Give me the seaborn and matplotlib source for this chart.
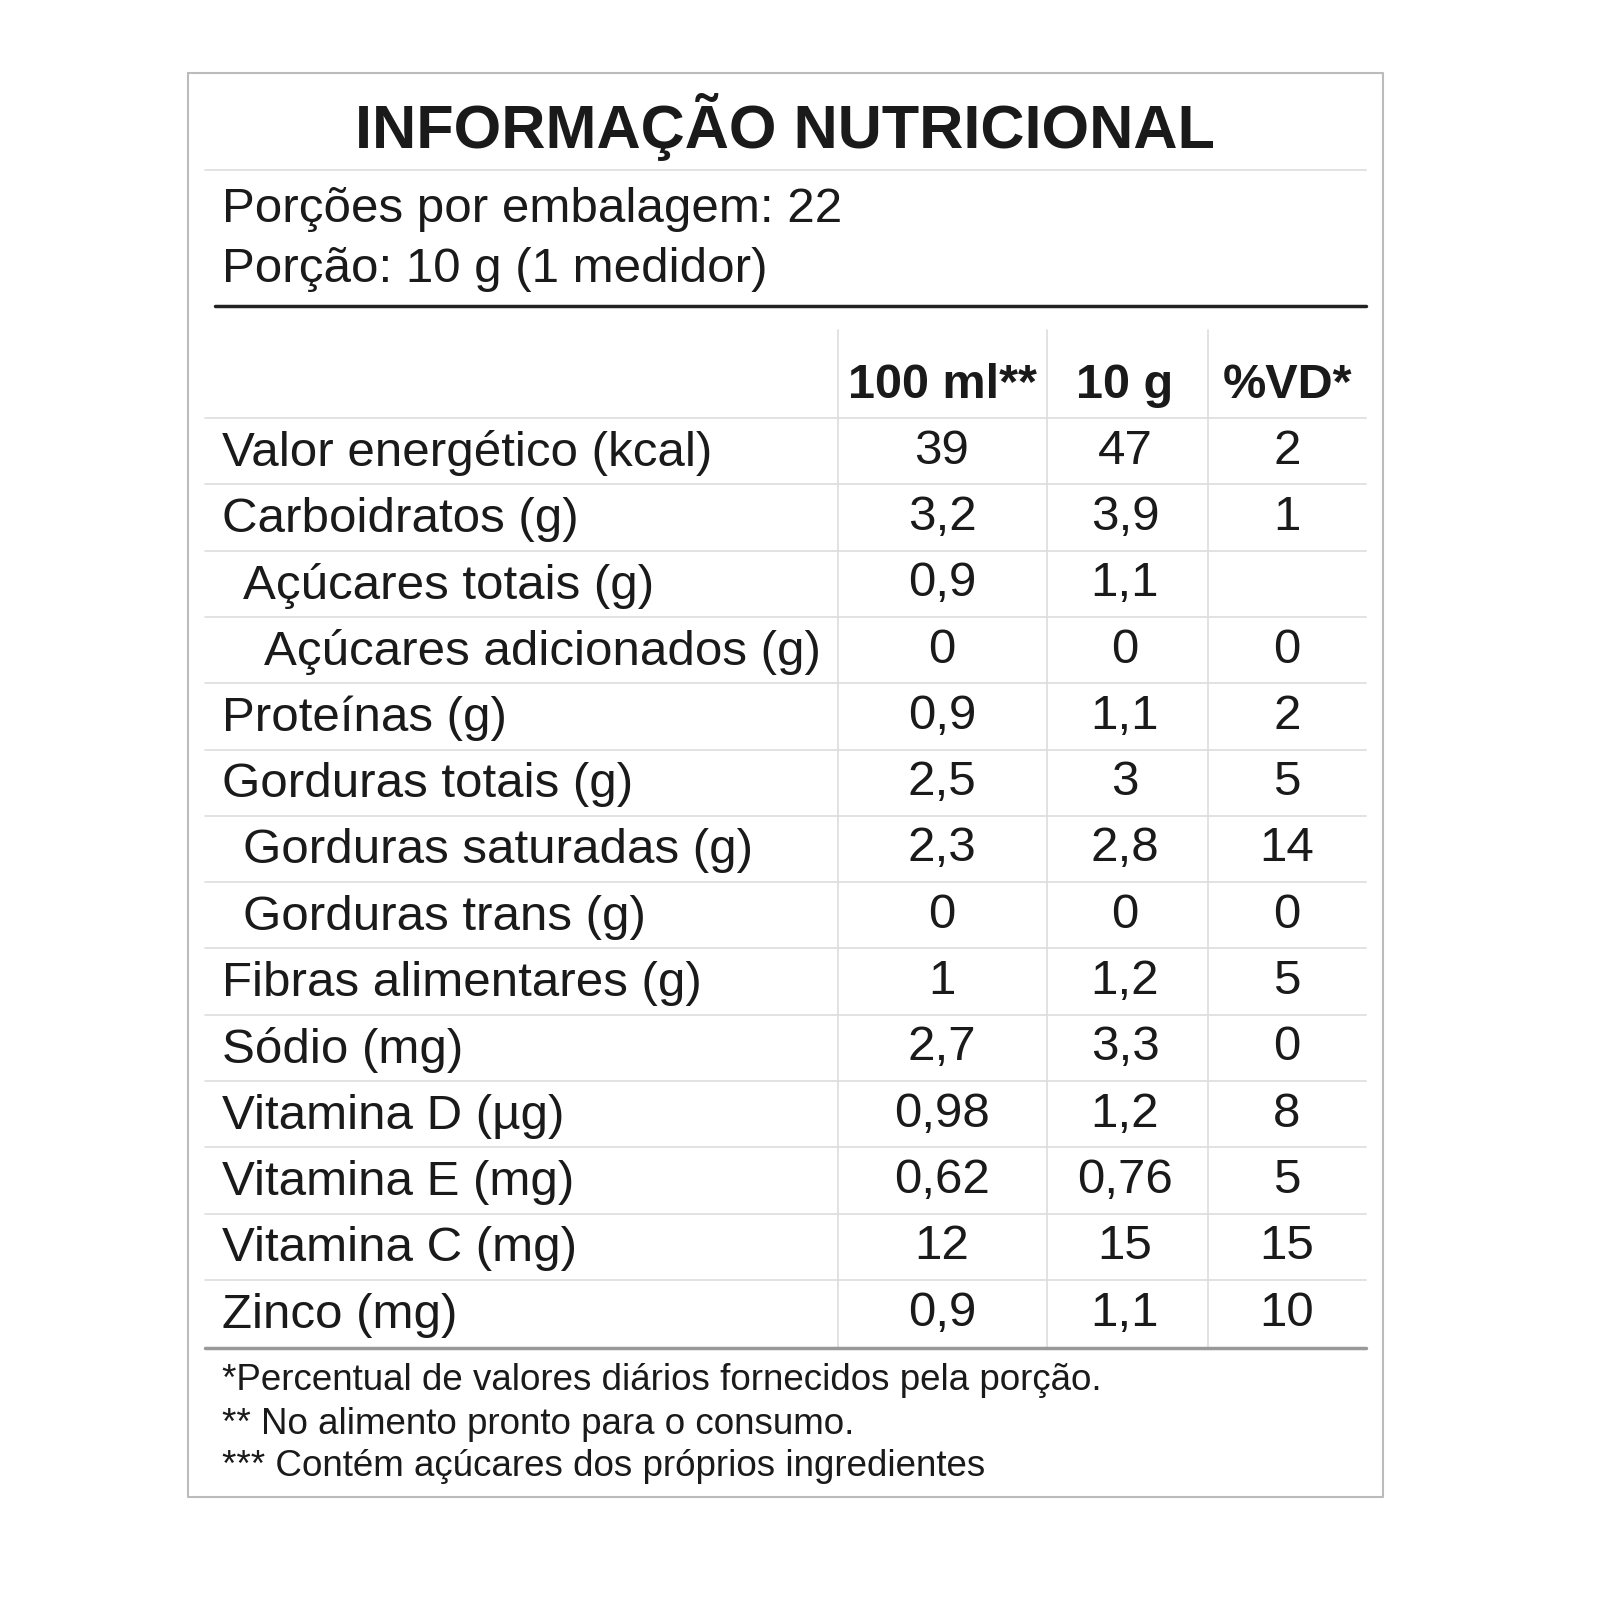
import matplotlib
matplotlib.use("Agg")
import matplotlib.pyplot as plt
import seaborn as sns

title = "INFORMAÇÃO NUTRICIONAL"
portions = ["Porções por embalagem: 22", "Porção: 10 g (1 medidor)"]
headers = ["100 ml**", "10 g", "%VD*"]
nutrients = ["Valor energético (kcal)", "Carboidratos (g)", "Açúcares totais (g)",
             "Açúcares adicionados (g)", "Proteínas (g)", "Gorduras totais (g)",
             "Gorduras saturadas (g)", "Gorduras trans (g)", "Fibras alimentares (g)",
             "Sódio (mg)", "Vitamina D (µg)", "Vitamina E (mg)", "Vitamina C (mg)", "Zinco (mg)"]
indent = [0, 0, 1, 2, 0, 0, 1, 1, 0, 0, 0, 0, 0, 0]
per100 = ["39", "3,2", "0,9", "0", "0,9", "2,5", "2,3", "0", "1", "2,7", "0,98", "0,62", "12", "0,9"]
per10 = ["47", "3,9", "1,1", "0", "1,1", "3", "2,8", "0", "1,2", "3,3", "1,2", "0,76", "15", "1,1"]
vd = ["2", "1", "", "0", "2", "5", "14", "0", "5", "0", "8", "5", "15", "10"]
footnotes = ["*Percentual de valores diários fornecidos pela porção.",
             "** No alimento pronto para o consumo.",
             "*** Contém açúcares dos próprios ingredientes"]

sns.set_style("white")
plt.rcParams['font.family'] = ['Liberation Sans', 'DejaVu Sans']
fig = plt.figure(figsize=(16, 16), dpi=100)
ax = fig.add_axes([0, 0, 1, 1])
ax.set_xlim(0, 1600); ax.set_ylim(1600, 0); ax.axis("off")
tc = "#1a1a1a"
ax.plot([188, 1383, 1383, 188, 188], [73, 73, 1497, 1497, 73], color="#bbbbbb", lw=1.5)
ax.text(785, 127, title, ha="center", va="center", fontsize=44, fontweight="bold", color=tc)
ax.plot([205, 1366], [170, 170], color="#dddddd", lw=1.2)
for i, p in enumerate(portions):
    ax.text(222, 209 + 60 * i, p, ha="left", va="center", fontsize=35.5, color=tc)
ax.plot([215, 1366], [306, 306], color="#222222", lw=2.5)
colx = [942, 1125, 1287]
for x in [838, 1047, 1208]:
    ax.plot([x, x], [330, 1347], color="#dddddd", lw=1.2)
for x, h in zip(colx, headers):
    ax.text(x, 385, h, ha="center", va="center", fontsize=35, fontweight="bold", color=tc)
top, step = 418, 66.3
for i, n in enumerate(nutrients):
    y0 = top + step * i
    ax.plot([205, 1366], [y0, y0], color="#dddddd", lw=1.2)
    yc = y0 + step / 2
    ax.text(222 + 21 * indent[i], yc + 2, n, ha="left", va="center", fontsize=35.5, color=tc)
    for x, v in zip(colx, [per100[i], per10[i], vd[i]]):
        ax.text(x, yc, v, ha="center", va="center", fontsize=35.5, color=tc)
ax.plot([205, 1366], [1348, 1348], color="#999999", lw=2.5)
for i, f in enumerate(footnotes):
    ax.text(222, 1381 + 43 * i, f, ha="left", va="center", fontsize=26.5, color=tc)
fig.savefig("out.png", dpi=100, facecolor="white")
